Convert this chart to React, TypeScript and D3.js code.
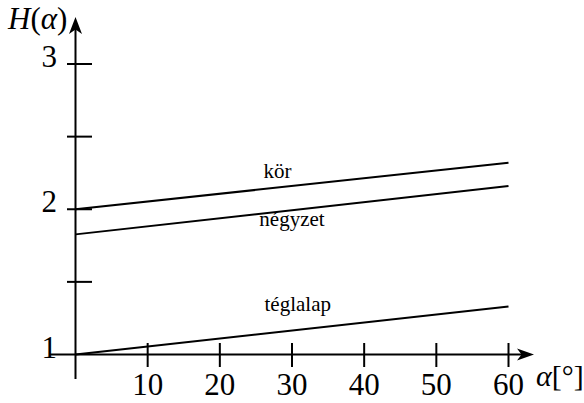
import React from "react";
import * as d3 from "d3";

const angles = [0, 60];
const korValues = [2.0, 2.32];
const negyzetValues = [1.827, 2.16];
const teglalapValues = [1.0, 1.33];
const xTickValues = [10, 20, 30, 40, 50, 60];
const yTickValues = [1.5, 2, 2.5, 3];
const yTickLabels = [1, 2, 3];
const seriesLabels = ["kör", "négyzet", "téglalap"];
const labelAngles = [28, 30, 30.8];

const W = 584;
const H = 403;

export default function App() {
  const x = d3.scaleLinear().domain([0, 60]).range([75.5, 508.5]);
  const y = d3.scaleLinear().domain([1, 3]).range([354.5, 64]);
  const line = d3
    .line<[number, number]>()
    .x((d) => x(d[0]))
    .y((d) => y(d[1]));
  const mk = (vals: number[]) => angles.map((a, i) => [a, vals[i]] as [number, number]);
  const series = [korValues, negyzetValues, teglalapValues];
  const labelBaselines = [178, 226, 311];
  const x0 = x(0);
  const y0 = y(1);
  const font = "'Liberation Serif', 'Times New Roman', serif";
  return (
    <svg
      width={W}
      height={H}
      style={{ position: "absolute", left: 0, top: 0, background: "#fff" }}
      fontFamily={font}
    >
      <rect width={W} height={H} fill="#fff" />
      {/* axes */}
      <line x1={x0} x2={x0} y1={379} y2={22} stroke="#000" strokeWidth={2} />
      <line x1={50} x2={528} y1={y0} y2={y0} stroke="#000" strokeWidth={2} />
      <path d={`M${x0},17 L${x0 - 6.5},34 L${x0},29.5 L${x0 + 6.5},34 Z`} fill="#000" />
      <path d={`M534,${y0} L517,${y0 - 6} L521.5,${y0} L517,${y0 + 6} Z`} fill="#000" />
      {/* y ticks */}
      {yTickValues.map((t) => (
        <line key={t} x1={x0 - 8.5} x2={x0 + 16.5} y1={y(t)} y2={y(t)} stroke="#000" strokeWidth={2} />
      ))}
      {yTickLabels.map((t) => (
        <text key={t} x={57} y={y(t) + 3} textAnchor="end" fontSize={31}>
          {t}
        </text>
      ))}
      {/* x ticks */}
      {xTickValues.map((t) => (
        <g key={t}>
          <line x1={x(t)} x2={x(t)} y1={y0 - 11.5} y2={y0 + 12.5} stroke="#000" strokeWidth={2} />
          <text x={x(t)} y={395} textAnchor="middle" fontSize={31}>
            {t}
          </text>
        </g>
      ))}
      {/* series */}
      {series.map((vals, i) => (
        <path key={i} d={line(mk(vals)) || ""} fill="none" stroke="#000" strokeWidth={2} />
      ))}
      {seriesLabels.map((s, i) => (
        <text key={s} x={x(labelAngles[i])} y={labelBaselines[i]} textAnchor="middle" fontSize={21}>
          {s}
        </text>
      ))}
      {/* axis titles */}
      <text x={8} y={29} fontSize={31}>
        <tspan fontStyle="italic">H</tspan>
        <tspan>(</tspan>
        <tspan fontStyle="italic">α</tspan>
        <tspan>)</tspan>
      </text>
      <text x={536} y={386} fontSize={30}>
        <tspan fontStyle="italic">α</tspan>
        <tspan>[°]</tspan>
      </text>
    </svg>
  );
}
